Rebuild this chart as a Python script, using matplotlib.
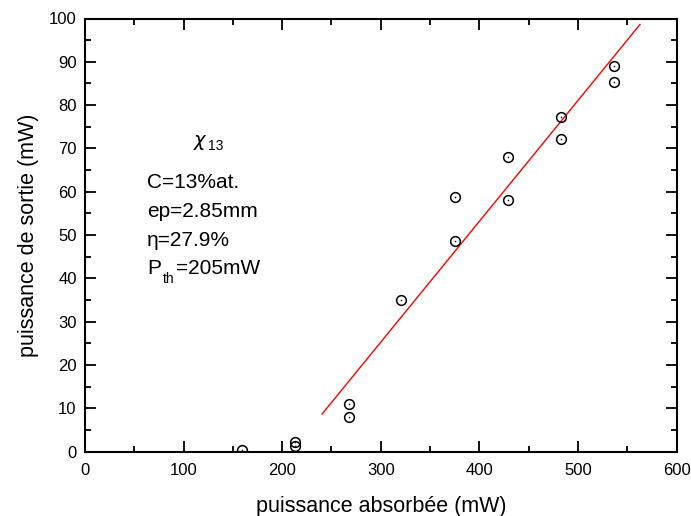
import matplotlib
matplotlib.use("Agg")
import matplotlib.pyplot as plt
import numpy as np
from matplotlib.ticker import MultipleLocator
from matplotlib.transforms import offset_copy

plt.rcParams['font.family'] = ['Liberation Sans', 'DejaVu Sans']

# data
p_abs = [159, 213, 213, 268, 268, 321, 375, 375, 429, 429, 483, 483, 537, 537]
p_out = [0.4, 2.2, 1.3, 11.0, 7.9, 34.9, 58.7, 48.6, 68.1, 58.0, 77.3, 72.1, 89.1, 85.3]

# linear fit drawn in red
fit_slope = 0.279
fit_x0 = 209.5
fit_xrange = [240.5, 563]

x_ticks = [0, 100, 200, 300, 400, 500, 600]
y_ticks = [0, 10, 20, 30, 40, 50, 60, 70, 80, 90, 100]

fig = plt.figure(figsize=(6.91, 5.16), dpi=100)
ax = fig.add_axes([85/691, 1 - 451.5/516, (676.5 - 85)/691, (451.5 - 18.5)/516])

fx = np.array(fit_xrange)
ax.plot(fx, fit_slope * (fx - fit_x0), color='red', lw=1.0, zorder=2)
ax.plot(p_abs, p_out, linestyle='none', marker='o', ms=7, mfc='none',
        mec='black', mew=1.1, zorder=3)
ax.plot(p_abs, p_out, linestyle='none', marker='o', ms=0.8, mfc='black',
        mec='black', mew=0.3, zorder=3)

ax.set_xlim(0, 600)
ax.set_ylim(0, 100)
ax.set_xticks(x_ticks)
ax.set_yticks(y_ticks)
ax.xaxis.set_minor_locator(MultipleLocator(50))
ax.yaxis.set_minor_locator(MultipleLocator(5))
ax.tick_params(which='both', direction='in', top=True, right=True, width=1.3,
               labelsize=12, colors='black')
ax.tick_params(which='major', length=8)
ax.tick_params(which='minor', length=4.5)
ax.tick_params(axis='x', which='major', pad=8)
ax.tick_params(axis='y', which='major', pad=6)
for s in ax.spines.values():
    s.set_linewidth(1.5)

ax.set_xlabel('puissance absorbée (mW)', fontsize=15.5, labelpad=13)
ax.set_ylabel('puissance de sortie (mW)', fontsize=15.5, labelpad=7)

fig.canvas.draw()
renderer = fig.canvas.get_renderer()


def text_with_sub(x, y, main, sub, rest=None, size=15, subsize=10, drop=-4, gap=1):
    t = ax.text(x, y, main, transform=ax.transAxes, fontsize=size, va='baseline')
    ext = t.get_window_extent(renderer)
    x1 = ext.x1
    tr = offset_copy(ax.transAxes, fig=fig, x=0, y=drop, units='points')
    s = ax.text(x, y, sub, transform=tr, fontsize=subsize, va='baseline')
    inv = ax.transAxes.inverted()
    sx = inv.transform((x1 + gap, 0))[0]
    s.set_x(sx)
    if rest is not None:
        sext = s.get_window_extent(renderer)
        rx = inv.transform((sext.x1 + gap, 0))[0]
        ax.text(rx, y, rest, transform=ax.transAxes, fontsize=size, va='baseline')


def yfrac(ypix):
    return (451.5 - ypix) / 433.0


def xfrac(xpix):
    return (xpix - 85) / 591.5


text_with_sub(xfrac(193), yfrac(146), r'$\chi$', '13', size=14, subsize=10, drop=-3, gap=0)
ax.text(xfrac(147), yfrac(188.5), 'C=13%at.', transform=ax.transAxes, fontsize=15, va='baseline')
ax.text(xfrac(147), yfrac(217), 'ep=2.85mm', transform=ax.transAxes, fontsize=15, va='baseline')
ax.text(xfrac(147), yfrac(245.5), 'η=27.9%', transform=ax.transAxes, fontsize=15, va='baseline')
text_with_sub(xfrac(147), yfrac(273.5), 'P', 'th', rest='=205mW', size=15, subsize=10,
              drop=-7, gap=1.5)

fig.savefig('out.png', dpi=100)
